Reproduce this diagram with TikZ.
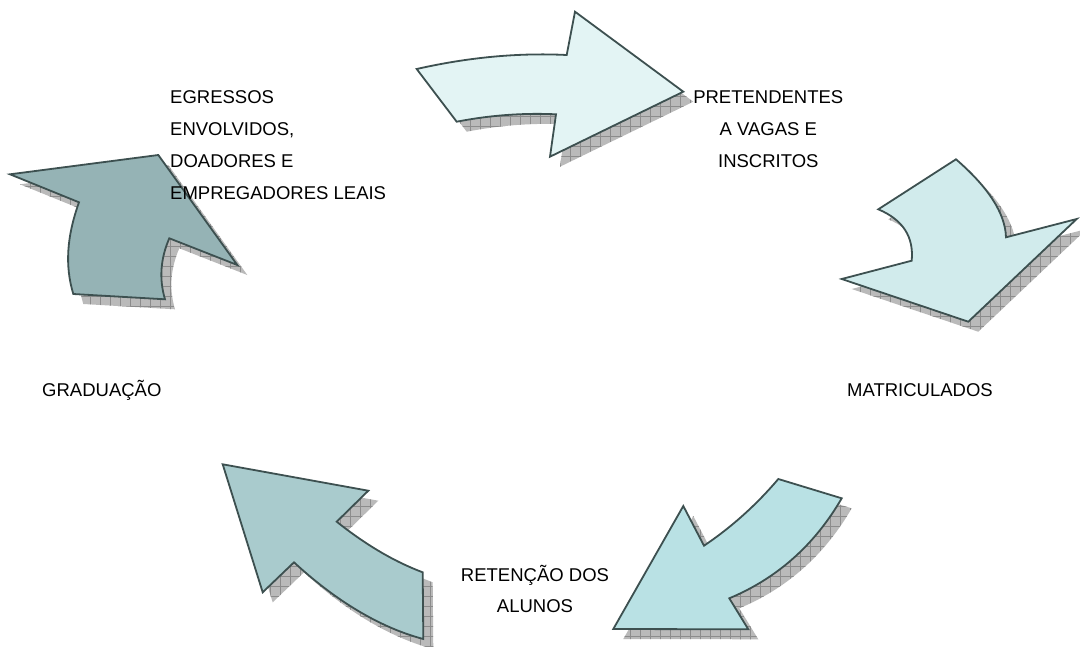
\documentclass[tikz,border=0pt]{standalone}
\usepackage{fontspec}
\setmainfont{Liberation Sans}
\usetikzlibrary{patterns.meta}
\definecolor{cTop}{RGB}{227,244,244}
\definecolor{cRight}{RGB}{209,235,236}
\definecolor{cBR}{RGB}{185,225,228}
\definecolor{cBL}{RGB}{169,203,205}
\definecolor{cLeft}{RGB}{149,179,181}
\definecolor{cLine}{RGB}{61,80,80}
\def\arrowTop{(416.7,69) .. controls (468.4,57.3) and (518.4,52.6) .. (566.7,55) -- (575,11.7) -- (683.3,91.7) -- (550,156.7) -- (556,114.3) .. controls (523.3,112.8) and (490.2,115.2) .. (456.7,121.7) -- cycle}
\def\arrowRight{(956,159.3) .. controls (988.7,187.6) and (1005.3,213.6) .. (1006,237.3) -- (1076.7,219) -- (968.3,321.7) -- (841.7,279) -- (911.7,260.7) .. controls (913.9,236.9) and (903.1,219.8) .. (878.3,209.3) -- cycle}
\def\arrowBR{(778.3,479) -- (841.7,498.3) .. controls (814.6,545) and (777.1,578.3) .. (729.3,598.3) -- (748.3,629.3) -- (613.3,629) -- (683.3,506) -- (704,545.7) .. controls (731.7,527) and (756.4,504.8) .. cycle}
\def\arrowBL{(222.7,464.3) -- (368.3,490.7) -- (336.7,521.7) .. controls (365.8,544.8) and (394.4,561.7) .. (422.7,572.3) -- (423.3,639) .. controls (382,628.1) and (337.6,602.6) .. (294,562.3) -- (262.7,592.3) -- cycle}
\def\arrowLeft{(10,174.3) -- (158.3,155) -- (237.3,265) -- (169.3,238.3) .. controls (160.4,258.8) and (159,279.1) .. (165,299.3) -- (73.3,294) .. controls (64.8,265.9) and (66.7,236.7) .. (79,202.3) -- cycle}
\tikzset{
  shadowbase/.style={fill=black!27, shift={(10,10)}},
  gridh/.style={shift={(10,10)}, pattern={Lines[angle=0,distance=10pt,line width=0.6pt]}, pattern color=black!45},
  gridv/.style={shift={(10,10)}, pattern={Lines[angle=90,distance=10pt,line width=0.6pt]}, pattern color=black!45},
  arrowbody/.style={draw=cLine, line width=1.8pt, line join=miter},
  lbl/.style={font=\fontsize{18.5}{22}\selectfont, inner sep=0pt, text=black},
}
\begin{document}
\begin{tikzpicture}[x=1pt,y=-1pt]
\useasboundingbox (0,0) rectangle (1080,646);
\fill[white] (0,0) rectangle (1080,646);
% shadows
\foreach \p in {\arrowTop,\arrowRight,\arrowBR,\arrowBL,\arrowLeft}{
  \path[shadowbase] \p;
  \path[gridh] \p;
  \path[gridv] \p;
}
% arrows
\path[arrowbody, fill=cTop] \arrowTop;
\path[arrowbody, fill=cRight] \arrowRight;
\path[arrowbody, fill=cBR] \arrowBR;
\path[arrowbody, fill=cBL] \arrowBL;
\path[arrowbody, fill=cLeft] \arrowLeft;
% labels
\node[lbl, anchor=base west] (eg1) at (170,103.3) {EGRESSOS};
\node[lbl, anchor=base west] (eg2) at (170,135.3) {ENVOLVIDOS,};
\node[lbl, anchor=base west] (eg3) at (170,167.3) {DOADORES E};
\node[lbl, anchor=base west] (eg4) at (170,199) {EMPREGADORES LEAIS};
\node[lbl, anchor=base] (pr1) at (768.3,103.3) {PRETENDENTES};
\node[lbl, anchor=base] (pr2) at (768.3,135) {A VAGAS E};
\node[lbl, anchor=base] (pr3) at (768.3,167) {INSCRITOS};
\node[lbl, anchor=base west] (mat) at (847,396.7) {MATRICULADOS};
\node[lbl, anchor=base west] (grad) at (42,396.7) {GRADUAÇÃO};
\node[lbl, anchor=base] (ret1) at (535,581) {RETENÇÃO DOS};
\node[lbl, anchor=base] (ret2) at (535,612.3) {ALUNOS};
\end{tikzpicture}
\end{document}
